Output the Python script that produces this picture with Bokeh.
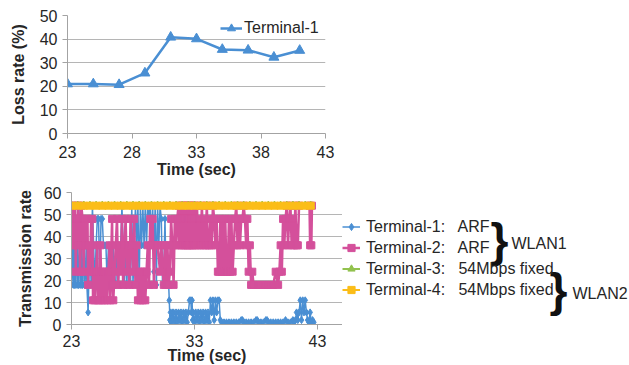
from bokeh.plotting import figure
from bokeh.layouts import column, row
from bokeh.models import Range1d, FixedTicker, Legend, LegendItem, Label
from bokeh.embed import file_html
from bokeh.resources import INLINE

# ---------------- data ----------------
# top chart: loss rate of Terminal-1
loss_time = [23, 25, 27, 29, 31, 33, 35, 37, 39, 41]
loss_rate = [21.0, 21.0, 20.7, 25.6, 40.8, 40.1, 35.6, 35.3, 32.3, 35.2]
top_x_ticks = [23, 28, 33, 38, 43]
top_y_ticks = [0, 10, 20, 30, 40, 50]

# bottom chart: transmission rate
bot_x_ticks = [23, 33, 43]
bot_y_ticks = [0, 10, 20, 30, 40, 50, 60]

t1_time = [23.0, 23.1, 23.15, 23.2, 23.25, 23.3, 23.4, 23.45, 23.5, 23.55, 23.6, 23.7, 23.75,
           23.8, 23.85, 23.9, 24.0, 24.05, 24.1, 24.2, 24.25, 24.35, 24.4, 24.5, 24.6, 24.7,
           24.8, 24.9, 25.0, 25.1, 25.2, 25.3, 25.4, 25.5, 25.6, 25.7, 25.8, 25.9, 26.0, 26.1,
           26.2, 26.3, 26.4, 26.5, 26.6, 26.7, 26.8, 26.9, 27.0, 27.1, 27.2, 27.3, 27.4, 27.5,
           27.6, 27.7, 27.8, 27.9, 28.0, 28.1, 28.2, 28.3, 28.4, 28.5, 28.6, 28.7, 28.8, 28.9,
           29.0, 29.1, 29.2, 29.3, 29.4, 29.5, 29.6, 29.7, 29.8, 29.9, 30.0, 30.1, 30.2, 30.3,
           30.4, 30.5, 30.6, 30.7, 30.8, 30.9, 30.95, 31.0, 31.05, 31.1, 31.2, 31.25, 31.3, 31.4,
           31.5, 31.55, 31.6, 31.7, 31.8, 31.9, 32.0, 32.1, 32.2, 32.3, 32.4, 32.5, 32.6, 32.7,
           32.75, 32.8, 32.85, 32.9, 33.0, 33.1, 33.2, 33.3, 33.4, 33.5, 33.6, 33.7, 33.8, 33.9,
           34.0, 34.1, 34.2, 34.3, 34.4, 34.5, 34.6, 34.7, 34.8, 34.9, 35.0, 35.1, 35.2, 35.4,
           35.6, 35.8, 36.0, 36.2, 36.4, 36.6, 36.8, 36.9, 37.0, 37.2, 37.4, 37.6, 37.8, 38.0,
           38.1, 38.2, 38.4, 38.6, 38.8, 38.9, 39.0, 39.2, 39.4, 39.6, 39.8, 40.0, 40.2, 40.4,
           40.6, 40.8, 41.0, 41.1, 41.2, 41.3, 41.4, 41.5, 41.6, 41.7, 41.8, 41.9, 42.0, 42.1,
           42.2, 42.3, 42.4, 42.5, 42.6, 42.7]
t1_rate = [18, 36, 18, 54, 18, 18, 48, 18, 36, 18, 18, 54, 18,
           36, 18, 18, 48, 18, 18, 36, 18, 5.5, 18, 36, 18, 54,
           36, 18, 36, 48, 48, 18, 48, 48, 36, 36, 36, 18, 36, 36,
           18, 36, 36, 18, 18, 36, 18, 36, 36, 54, 36, 18, 36, 18,
           36, 18, 18, 54, 18, 36, 54, 36, 54, 18, 54, 36, 54, 36,
           54, 36, 54, 48, 54, 36, 54, 24, 54, 18, 54, 36, 54, 48,
           18, 24, 48, 18, 24, 18, 11, 2, 5.5, 1, 5.5, 2, 5.5, 1,
           5.5, 2, 1, 5.5, 2, 5.5, 1, 5.5, 2, 5.5, 1, 5.5, 11, 11,
           5.5, 11, 2, 5.5, 1, 5.5, 2, 5.5, 1, 5.5, 2, 5.5, 1, 5.5,
           2, 5.5, 1, 11, 5.5, 11, 2, 11, 5.5, 11, 11, 2, 1, 1,
           1, 1, 1, 1, 1, 1, 2, 2, 1, 1, 1, 1, 1, 2,
           2, 1, 1, 1, 2, 2, 1, 1, 1, 1, 1, 1, 1, 2,
           1, 1, 2, 1, 2, 5.5, 2, 5.5, 11, 2, 11, 5.5, 11, 5.5,
           2, 1, 5.5, 1, 2, 1]

t2_time = [23.0, 23.1, 23.15, 23.2, 23.3, 23.35, 23.4, 23.5, 23.55, 23.6, 23.7, 23.75, 23.8,
           23.9, 23.95, 24.0, 24.05, 24.1, 24.2, 24.3, 24.35, 24.4, 24.5, 24.6, 24.7, 24.75,
           24.8, 24.9, 25.0, 25.1, 25.15, 25.2, 25.3, 25.35, 25.4, 25.5, 25.6, 25.7, 25.8, 25.9,
           26.0, 26.1, 26.15, 26.2, 26.3, 26.35, 26.4, 26.5, 26.6, 26.7, 26.8, 26.9, 27.0, 27.1,
           27.2, 27.3, 27.4, 27.5, 27.6, 27.7, 27.8, 27.9, 28.0, 28.1, 28.2, 28.3, 28.4, 28.5,
           28.6, 28.7, 28.8, 28.9, 29.0, 29.1, 29.2, 29.3, 29.4, 29.5, 29.6, 29.7, 29.8, 30.0,
           30.2, 30.3, 30.5, 30.6, 30.7, 30.8, 30.9, 31.0, 31.1, 31.2, 31.3, 31.4, 31.5, 31.6,
           31.7, 31.75, 31.8, 31.9, 31.95, 32.0, 32.05, 32.1, 32.15, 32.2, 32.25, 32.3, 32.35,
           32.4, 32.45, 32.5, 32.55, 32.6, 32.65, 32.7, 32.75, 32.8, 32.85, 32.9, 32.95, 33.0,
           33.1, 33.2, 33.3, 33.4, 33.5, 33.6, 33.7, 33.8, 33.9, 34.0, 34.1, 34.2, 34.3, 34.4,
           34.5, 34.6, 34.7, 34.8, 34.9, 35.0, 35.1, 35.2, 35.3, 35.4, 35.5, 35.6, 35.7, 35.8,
           35.9, 36.0, 36.1, 36.2, 36.3, 36.4, 36.5, 36.6, 36.7, 36.8, 36.9, 37.0, 37.1, 37.2,
           37.3, 37.4, 37.5, 37.6, 37.7, 37.8, 38.0, 38.2, 38.4, 38.6, 38.8, 39.0, 39.2, 39.4,
           39.6, 39.8, 39.9, 40.0, 40.1, 40.2, 40.3, 40.4, 40.5, 40.6, 40.7, 40.8, 40.9, 41.0,
           41.1, 41.2, 41.3, 41.4, 41.5, 42.35, 42.4, 42.5, 42.55]
t2_rate = [36, 54, 36, 48, 54, 24, 48, 36, 54, 48, 24, 36, 54,
           48, 36, 24, 48, 36, 48, 48, 18, 36, 24, 48, 48, 11,
           24, 11, 24, 36, 11, 24, 11, 36, 24, 11, 24, 11, 24, 11,
           24, 36, 11, 24, 48, 18, 11, 24, 36, 48, 18, 36, 24, 48,
           18, 36, 48, 24, 36, 18, 48, 36, 24, 48, 18, 36, 11, 24,
           11, 24, 11, 24, 11, 24, 36, 18, 48, 36, 48, 18, 36, 36,
           24, 36, 18, 36, 18, 36, 18, 24, 48, 36, 18, 48, 36, 48,
           54, 36, 48, 54, 36, 48, 54, 36, 48, 54, 36, 54, 48,
           36, 54, 36, 48, 54, 36, 54, 48, 36, 54, 36, 48, 54,
           36, 54, 36, 48, 36, 54, 36, 48, 36, 54, 36, 36, 48, 36,
           54, 48, 36, 48, 24, 24, 48, 24, 48, 24, 48, 24, 24, 48,
           24, 48, 24, 36, 48, 54, 36, 48, 36, 48, 48, 54, 48, 36,
           48, 24, 36, 18, 24, 18, 18, 18, 18, 18, 18, 18, 18, 18,
           24, 18, 24, 36, 24, 48, 36, 48, 54, 36, 48, 54, 36, 48,
           36, 54, 36, 36, 54, 54, 36, 36, 54]

t34_time = [23.0, 23.5, 24.0, 24.5, 25.0, 25.5, 26.0, 26.5, 27.0, 27.5, 28.0, 28.5, 29.0,
            29.5, 30.0, 30.5, 31.0, 31.5, 32.0, 32.5, 33.0, 33.5, 34.0, 34.5, 35.0, 35.5,
            36.0, 36.5, 37.0, 37.5, 38.0, 38.5, 39.0, 39.5, 40.0, 40.5, 41.0, 41.5, 42.0, 42.45]
t3_rate = [54, 54, 54, 54, 54, 54, 54, 54, 54, 54, 54, 54, 54,
           54, 54, 54, 54, 54, 54, 54, 54, 54, 54, 54, 54, 54,
           54, 54, 54, 54, 54, 54, 54, 54, 54, 54, 54, 54, 54, 54]
t4_rate = [54, 54, 54, 54, 54, 54, 54, 54, 54, 54, 54, 54, 54,
           54, 54, 54, 54, 54, 54, 54, 54, 54, 54, 54, 54, 54,
           54, 54, 54, 54, 54, 54, 54, 54, 54, 54, 54, 54, 54, 54]

legend_labels = ["Terminal-1:\u00a0\u00a0 ARF", "Terminal-2:\u00a0\u00a0 ARF",
                 "Terminal-3:\u00a0\u00a0 54Mbps fixed", "Terminal-4:\u00a0\u00a0 54Mbps fixed"]
group_labels = ["WLAN1", "WLAN2"]

# ---------------- style ----------------
FONT = "Liberation Sans"
TXT = "#262626"
GRID = "#b5b5b5"
AXIS = "#a3a3a3"
BLUE = "#4a8fd3"
MAGENTA = "#d4509b"
GREEN = "#92c24e"
ORANGE = "#fbbd18"


def style_axes(p):
    for ax in (p.xaxis[0], p.yaxis[0]):
        ax.axis_line_color = AXIS
        ax.major_tick_line_color = AXIS
        ax.major_tick_out = 5
        ax.major_tick_in = 0
        ax.minor_tick_line_color = None
        ax.major_label_text_font = FONT
        ax.major_label_text_font_size = "16px"
        ax.major_label_text_color = TXT
        ax.axis_label_text_font = FONT
        ax.axis_label_text_font_size = "16px"
        ax.axis_label_text_font_style = "bold"
        ax.axis_label_text_color = TXT


def plain(p):
    p.outline_line_color = None
    p.background_fill_color = None
    p.border_fill_color = None


# ---------------- top chart ----------------
p1 = figure(frame_width=258, frame_height=118, min_border_left=67, min_border_right=20,
            min_border_top=15, min_border_bottom=50,
            x_range=Range1d(23, 43), y_range=Range1d(0, 50),
            output_backend="svg", toolbar_location=None)
plain(p1)
p1.xgrid.visible = False
p1.ygrid.grid_line_color = GRID
p1.xaxis.ticker = FixedTicker(ticks=top_x_ticks)
p1.yaxis.ticker = FixedTicker(ticks=top_y_ticks)
style_axes(p1)
p1.xaxis.axis_label = "Time (sec)"
p1.yaxis.axis_label = "Loss rate (%)"
p1.xaxis.major_label_standoff = 7
p1.xaxis.axis_label_standoff = 0
p1.yaxis.major_label_standoff = 5
p1.yaxis.axis_label_standoff = 10

l1 = p1.line(loss_time, loss_rate, line_color=BLUE, line_width=2.5)
s1 = p1.scatter(loss_time, loss_rate, marker="triangle", size=10, fill_color=BLUE, line_color=BLUE)
leg1 = Legend(items=[LegendItem(label="Terminal-1", renderers=[l1, s1])],
              location=(153, 95), padding=0, margin=0, spacing=0,
              glyph_width=22, glyph_height=20, label_height=20, label_standoff=2,
              label_text_font=FONT, label_text_font_size="16px", label_text_color=TXT,
              border_line_color=None, background_fill_alpha=0)
p1.add_layout(leg1)

# ---------------- bottom chart ----------------
PXS = 12.3
FW = 271
FH = 132
BT = 9
BB = 41
p2 = figure(frame_width=FW, frame_height=FH, min_border_left=71, min_border_right=0,
            min_border_top=BT, min_border_bottom=BB,
            x_range=Range1d(23, 23 + FW / PXS), y_range=Range1d(0, 60),
            output_backend="svg", toolbar_location=None)
plain(p2)
p2.xgrid.visible = False
p2.ygrid.grid_line_color = GRID
p2.xaxis.ticker = FixedTicker(ticks=bot_x_ticks)
p2.yaxis.ticker = FixedTicker(ticks=bot_y_ticks)
style_axes(p2)
p2.xaxis.axis_label = "Time (sec)"
p2.yaxis.axis_label = "Transmission rate"
p2.xaxis.major_label_standoff = 5
p2.xaxis.axis_label_standoff = -3
p2.yaxis.major_label_standoff = 5
p2.yaxis.axis_label_standoff = 7


def draw_series(p):
    a = p.line(t1_time, t1_rate, line_color=BLUE, line_width=1.5)
    b = p.scatter(t1_time, t1_rate, marker="diamond", size=7, fill_color=BLUE, line_color=BLUE)
    c = p.line(t2_time, t2_rate, line_color=MAGENTA, line_width=2.5)
    d = p.scatter(t2_time, t2_rate, marker="square", size=7, fill_color=MAGENTA, line_color=MAGENTA)
    e = p.line(t34_time, t3_rate, line_color=GREEN, line_width=2)
    f = p.scatter(t34_time, t3_rate, marker="triangle", size=8, fill_color=GREEN, line_color=GREEN)
    g = p.line(t34_time, t4_rate, line_color=ORANGE, line_width=2)
    h = p.scatter(t34_time, t4_rate, marker="square", size=7, fill_color=ORANGE, line_color=ORANGE)
    return [[a, b], [c, d], [e, f], [g, h]]


draw_series(p2)

# ---------------- legend panel (right of the bottom chart) ----------------
LW = 629 - (71 + FW)
p3 = figure(frame_width=LW, frame_height=FH, min_border_left=0, min_border_right=0,
            min_border_top=BT, min_border_bottom=BB,
            x_range=Range1d(0, 1), y_range=Range1d(0, 1),
            x_axis_type=None, y_axis_type=None, output_backend="svg", toolbar_location=None)
plain(p3)
p3.grid.visible = False
leg_rs = draw_series(p3)  # series lie outside this panel's view; used for legend swatches

leg2 = Legend(items=[LegendItem(label=lab, renderers=rs) for lab, rs in zip(legend_labels, leg_rs)],
              location=(0, 24), padding=0, margin=0, spacing=0,
              glyph_width=18, glyph_height=21, label_height=21, label_standoff=6,
              label_text_font=FONT, label_text_font_size="16px", label_text_color=TXT,
              border_line_color=None, background_fill_alpha=0)
p3.add_layout(leg2)

X0 = 71 + FW      # page x of the legend panel's left edge
YB = 183 + BT + FH  # page y of the legend panel's frame bottom


def xf(px):
    return (px - X0) / LW


def yf(py):
    return (YB - py) / FH


for bx, by in ((490, 239), (549, 289)):
    p3.add_layout(Label(x=xf(bx), y=yf(by), text="}", text_font=FONT, text_font_size="46px",
                        text_font_style="bold", text_color="#111111",
                        text_baseline="middle", text_align="left"))
for (gx, gy), g in zip(((511, 243), (572, 293)), group_labels):
    p3.add_layout(Label(x=xf(gx), y=yf(gy), text=g, text_font=FONT, text_font_size="16px",
                        text_color=TXT, text_baseline="middle", text_align="left"))

layout = column(p1, row(p2, p3))
open("out.html", "w").write(file_html(layout, INLINE))
